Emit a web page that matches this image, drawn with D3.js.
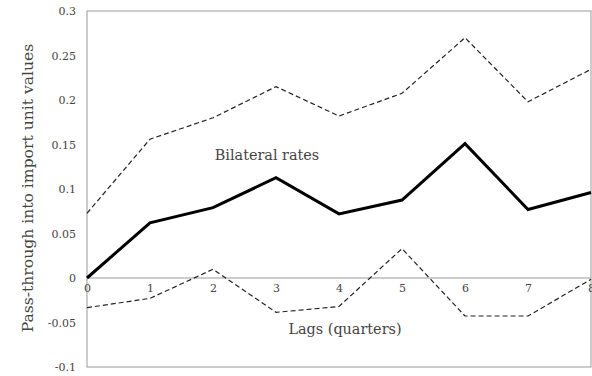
<!DOCTYPE html>
<html><head><meta charset="utf-8">
<script src="https://cdn.jsdelivr.net/npm/d3@7"></script>
<style>body{margin:0;background:#fff}svg{display:block}</style>
</head><body>
<svg id="c" width="592" height="376"></svg>
<script>
const lags = [0,1,2,3,4,5,6,7,8];
const estimate = [0, 0.062, 0.079, 0.1127, 0.072, 0.0876, 0.151, 0.077, 0.096];
const upperBand = [0.0727, 0.156, 0.18, 0.215, 0.182, 0.2075, 0.27, 0.198, 0.2345];
const lowerBand = [-0.0333, -0.0229, 0.0098, -0.0386, -0.032, 0.033, -0.0427, -0.0427, -0.0015];
const yTicks = [-0.1,-0.05,0,0.05,0.1,0.15,0.2,0.25,0.3];
const yTickLabels = ["-0.1","-0.05","0","0.05","0.1","0.15","0.2","0.25","0.3"];

const svg = d3.select("#c");
const m = {l:87, r:591, t:11, b:367};
const x = d3.scaleLinear().domain([0,8]).range([m.l, m.r]);
const y = d3.scaleLinear().domain([-0.1,0.3]).range([m.b, m.t]);
const font = "'DejaVu Serif', serif";
const txt = "#444";

// frame
svg.append("rect").attr("x", m.l).attr("y", m.t).attr("width", m.r-m.l).attr("height", m.b-m.t)
  .attr("fill","none").attr("stroke","#999").attr("stroke-width",1);
// zero line
svg.append("line").attr("x1", x(0)).attr("x2", x(8)).attr("y1", y(0)).attr("y2", y(0))
  .attr("stroke","#999").attr("stroke-width",1);

// y axis labels
const yAxis = d3.axisLeft(y).tickValues(yTicks).tickFormat((d,i)=>yTickLabels[i]).tickSize(0).tickPadding(11);
const ya = svg.append("g").attr("transform",`translate(${m.l},0)`).call(yAxis);
ya.select(".domain").remove();
ya.selectAll("text").attr("font-family", font).attr("font-size", 11).attr("fill", txt);

// x axis labels along zero line
const xAxis = d3.axisBottom(x).tickValues(lags).tickFormat(d3.format("d")).tickSize(0).tickPadding(6);
const xa = svg.append("g").attr("transform",`translate(0,${y(0)})`).call(xAxis);
xa.select(".domain").remove();
xa.selectAll("text").attr("font-family", font).attr("font-size", 11).attr("fill", txt);

const line = d3.line().x((d,i)=>x(lags[i])).y(d=>y(d));
svg.append("path").datum(upperBand).attr("d", line).attr("fill","none")
  .attr("stroke","#222").attr("stroke-width",1.2).attr("stroke-dasharray","5,3");
svg.append("path").datum(lowerBand).attr("d", line).attr("fill","none")
  .attr("stroke","#222").attr("stroke-width",1.2).attr("stroke-dasharray","5,3");
svg.append("path").datum(estimate).attr("d", line).attr("fill","none")
  .attr("stroke","#000").attr("stroke-width",3).attr("stroke-linejoin","miter");

svg.append("text").attr("x", 267).attr("y", 160).attr("text-anchor","middle")
  .attr("font-family", font).attr("font-size", 14.4).attr("fill", txt).text("Bilateral rates");
svg.append("text").attr("x", 345).attr("y", 334).attr("text-anchor","middle")
  .attr("font-family", font).attr("font-size", 14.4).attr("fill", txt).text("Lags (quarters)");
svg.append("text").attr("transform", `translate(33,${188}) rotate(-90)`).attr("text-anchor","middle")
  .attr("font-family", font).attr("font-size", 15.6).attr("fill", txt).text("Pass-through into import unit values");
</script>
</body></html>
